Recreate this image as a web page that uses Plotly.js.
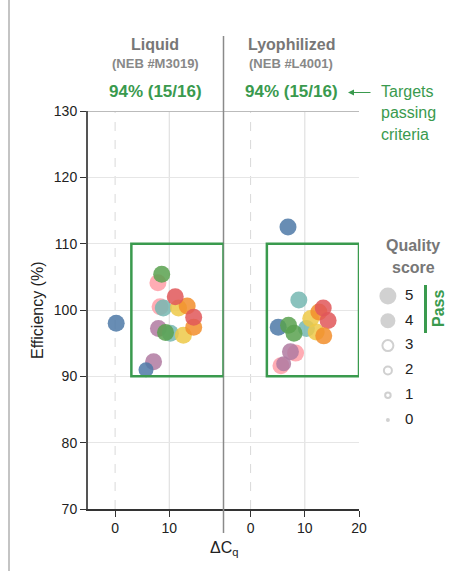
<!DOCTYPE html>
<html>
<head>
<meta charset="utf-8">
<script src="https://cdn.plot.ly/plotly-3.0.1.min.js"></script>
<style>html,body{margin:0;padding:0;background:#fff;}#chart{width:450px;height:571px;}</style>
</head>
<body>
<div id="chart"></div>
<script>
// ---------------- data ----------------
const panels = ['Liquid', 'Lyophilized'];
const catalogNumbers = ['(NEB #M3019)', '(NEB #L4001)'];
const passingTargets = [15, 15];
const totalTargets = [16, 16];

// target group (colour family) for each point, ΔCq, efficiency, quality score
const liquidGroup = ['pink','pink','green','teal','purple','purple','teal','green','yellow','yellow','orange','orange','red','red','blue','blue'];
const liquidDeltaCq = [7.9, 8.3, 8.6, 8.9, 7.1, 8.0, 10.2, 9.3, 11.7, 12.6, 13.3, 14.5, 11.1, 14.5, 0.2, 5.7];
const liquidEfficiency = [104.1, 100.5, 105.4, 100.3, 92.2, 97.2, 96.5, 96.6, 100.3, 96.2, 100.6, 97.4, 102.0, 98.9, 98.0, 91.0];
const liquidScore = [5,5,5,5,5,5,5,5,5,5,5,5,5,5,5,4];

const lyoGroup = ['teal','teal','blue','blue','green','green','yellow','yellow','orange','red','red','orange','pink','purple','pink','purple'];
const lyoDeltaCq = [8.9, 10.3, 6.9, 5.1, 7.0, 8.0, 11.1, 12.1, 12.6, 13.4, 14.3, 13.5, 8.3, 7.35, 5.6, 6.1];
const lyoEfficiency = [101.5, 97.2, 112.5, 97.4, 97.7, 96.5, 98.7, 96.7, 99.7, 100.3, 98.4, 96.1, 93.5, 93.7, 91.6, 91.9];
const lyoScore = [5,5,5,5,5,5,5,5,5,5,5,5,5,5,5,4];

// pass criteria
const passDeltaCqMin = 3, passDeltaCqMax = 20;
const passEffMin = 90, passEffMax = 110;

// axes
const yTickVals = [70, 80, 90, 100, 110, 120, 130];
const xTickValsLeft = [0, 10];
const xTickValsRight = [0, 10, 20];
const qualityScores = [5, 4, 3, 2, 1, 0];

// ---------------- styles ----------------
const palette = {blue:'#4e79a7', orange:'#f28e2b', red:'#e15759', teal:'#76b7b2', green:'#59a14f', yellow:'#edc948', purple:'#b07aa1', pink:'#ff9da7'};
const scoreSize = {5:17, 4:15, 3:11, 2:8, 1:5.5, 0:4};
const GREEN = '#3a9a4e';
const GRAYTXT = '#777';
const FONT = 'Liberation Sans, Arial, Helvetica, sans-serif';
const W = 450, H = 571;
const px = x => x / W, py = y => 1 - y / H;

const traces = [
  {type:'scatter', mode:'markers', x: liquidDeltaCq, y: liquidEfficiency, xaxis:'x', yaxis:'y',
   marker:{color: liquidGroup.map(g => palette[g]), size: liquidScore.map(s => scoreSize[s]), opacity:0.85, line:{width:0}},
   hoverinfo:'x+y', showlegend:false},
  {type:'scatter', mode:'markers', x: lyoDeltaCq, y: lyoEfficiency, xaxis:'x2', yaxis:'y',
   marker:{color: lyoGroup.map(g => palette[g]), size: lyoScore.map(s => scoreSize[s]), opacity:0.85, line:{width:0}},
   hoverinfo:'x+y', showlegend:false},
  // quality score key
  {type:'scatter', mode:'markers', x: qualityScores.map(() => 0.31), y: qualityScores, xaxis:'x3', yaxis:'y3',
   marker:{size: qualityScores.map(s => scoreSize[s]),
           color: qualityScores.map(s => (s >= 4 || s === 0) ? '#bdbdbd' : 'rgba(0,0,0,0)'),
           line:{color:'#bdbdbd', width: qualityScores.map(s => (s >= 4 || s === 0) ? 0 : 2)}},
   hoverinfo:'skip', showlegend:false},
  {type:'scatter', mode:'text', x: qualityScores.map(() => 0.545), y: qualityScores, xaxis:'x3', yaxis:'y3',
   text: qualityScores.map(String), textfont:{size:15, color:'#222', family:FONT}, textposition:'middle center',
   hoverinfo:'skip', showlegend:false}
];

const xCommon = {range:[-5, 20], ticks:'outside', ticklen:6, tickwidth:1, tickcolor:'#333', showline:true, linecolor:'#333', linewidth:1.5,
  showgrid:false, zeroline:false, tickfont:{size:14, color:'#222', family:FONT}, anchor:'y', fixedrange:true};

const shapes = [];
// page border line at left
shapes.push({type:'line', xref:'paper', yref:'paper', x0:px(9), x1:px(9), y0:0, y1:1, line:{color:'#c4c4c4', width:2}});
// vertical gridlines
['x','x2'].forEach(ax => {
  shapes.push({type:'line', xref:ax, yref:'y', x0:0, x1:0, y0:70, y1:130, line:{color:'#d9d9d9', width:1, dash:'dash'}, layer:'below'});
  shapes.push({type:'line', xref:ax, yref:'y', x0:10, x1:10, y0:70, y1:130, line:{color:'#e0e0e0', width:1.2}, layer:'below'});
});
// top line at 130
shapes.push({type:'line', xref:'paper', yref:'y', x0:px(88), x1:px(359), y0:130, y1:130, line:{color:'#bbbbbb', width:2}});
// divider between panels
shapes.push({type:'line', xref:'paper', yref:'paper', x0:px(223.5), x1:px(223.5), y0:py(533), y1:py(36), line:{color:'#8a8a8a', width:1.5}});
// pass boxes
['x','x2'].forEach(ax => {
  shapes.push({type:'rect', xref:ax, yref:'y', x0:passDeltaCqMin, x1:passDeltaCqMax, y0:passEffMin, y1:passEffMax, line:{color:GREEN, width:2.5}, fillcolor:'rgba(0,0,0,0)', layer:'above'});
});
// pass bar in the key
shapes.push({type:'line', xref:'paper', yref:'paper', x0:px(425.5), x1:px(425.5), y0:py(285), y1:py(333), line:{color:GREEN, width:3}});

const annotations = [];
const centers = [155, 291];
panels.forEach((p, i) => {
  annotations.push({xref:'paper', yref:'paper', x:px(centers[i]), y:py(45), text:'<b>'+p+'</b>', showarrow:false, font:{size:16, color:GRAYTXT, family:FONT}, xanchor:'center', yanchor:'middle'});
  annotations.push({xref:'paper', yref:'paper', x:px(centers[i]), y:py(63), text:'<b>'+catalogNumbers[i]+'</b>', showarrow:false, font:{size:13, color:'#888', family:FONT}, xanchor:'center', yanchor:'middle'});
  const pct = Math.round(passingTargets[i] / totalTargets[i] * 100);
  annotations.push({xref:'paper', yref:'paper', x:px(centers[i]), y:py(92), text:'<b>'+pct+'% ('+passingTargets[i]+'/'+totalTargets[i]+')</b>', showarrow:false, font:{size:17, color:GREEN, family:FONT}, xanchor:'center', yanchor:'middle'});
});
// arrow + note
annotations.push({xref:'paper', yref:'paper', x:px(348), y:py(92.5), ax:24, ay:0, text:'', showarrow:true, arrowhead:2, arrowsize:1, arrowwidth:1.2, arrowcolor:GREEN});
['Targets','passing','criteria'].forEach((t, k) => {
  annotations.push({xref:'paper', yref:'paper', x:px(379), y:py(92 + 21*k), text:t, showarrow:false, font:{size:16, color:GREEN, family:FONT}, xanchor:'left', yanchor:'middle'});
});
// axis titles
annotations.push({xref:'paper', yref:'paper', x:px(37), y:py(310), text:'Efficiency (%)', textangle:-90, showarrow:false, font:{size:16, color:'#222', family:FONT}, xanchor:'center', yanchor:'middle'});
annotations.push({xref:'paper', yref:'paper', x:px(223.5), y:py(548), text:'ΔC<sub>q</sub>', showarrow:false, font:{size:16, color:'#222', family:FONT}, xanchor:'center', yanchor:'middle'});
// key title
annotations.push({xref:'paper', yref:'paper', x:px(413), y:py(245), text:'<b>Quality</b>', showarrow:false, font:{size:16, color:GRAYTXT, family:FONT}, xanchor:'center', yanchor:'middle'});
annotations.push({xref:'paper', yref:'paper', x:px(413), y:py(267), text:'<b>score</b>', showarrow:false, font:{size:16, color:GRAYTXT, family:FONT}, xanchor:'center', yanchor:'middle'});
annotations.push({xref:'paper', yref:'paper', x:px(438), y:py(309), text:'<b>Pass</b>', textangle:-90, showarrow:false, font:{size:16, color:GREEN, family:FONT}, xanchor:'center', yanchor:'middle'});

const layout = {
  width:W, height:H, margin:{l:0, r:0, t:0, b:0}, paper_bgcolor:'#fff', plot_bgcolor:'rgba(0,0,0,0)',
  font:{family:FONT, color:'#222'}, showlegend:false,
  xaxis: Object.assign({}, xCommon, {domain:[px(88), px(223.5)], tickvals:xTickValsLeft}),
  xaxis2: Object.assign({}, xCommon, {domain:[px(223.5), px(359)], tickvals:xTickValsRight}),
  yaxis: {domain:[py(509), py(111)], range:[70, 130], tickvals:yTickVals, ticks:'outside', ticklen:6, tickcolor:'#333',
          showline:true, linecolor:'#555', linewidth:2, showgrid:true, gridcolor:'#e6e6e6', gridwidth:1, zeroline:false,
          tickfont:{size:14, color:'#222', family:FONT}, anchor:'x', fixedrange:true},
  xaxis3: {domain:[0.8, 1], range:[0, 1], visible:false, anchor:'y3', fixedrange:true},
  yaxis3: {domain:[0.2427, 0.5033], range:[-0.5, 5.5], visible:false, anchor:'x3', fixedrange:true},
  shapes: shapes, annotations: annotations
};

Plotly.newPlot('chart', traces, layout, {displayModeBar:false, staticPlot:true});
</script>
</body>
</html>
